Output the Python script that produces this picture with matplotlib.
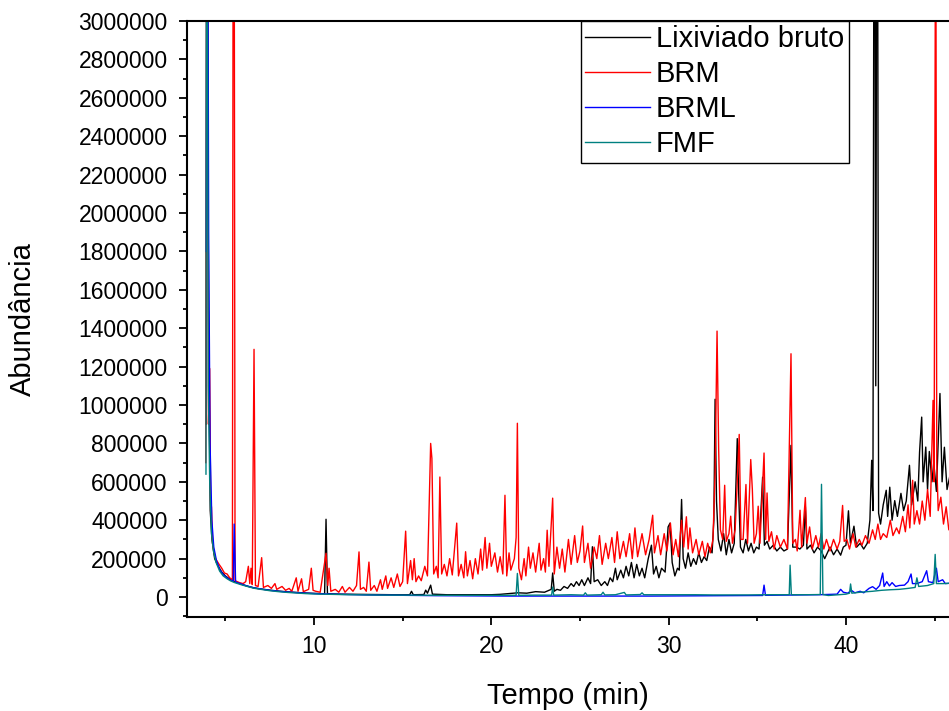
import matplotlib.pyplot as plt
from matplotlib.ticker import MultipleLocator, FuncFormatter
import numpy as np

# cromatogramas: (tempo em min, abundancia em milhares)
bruto = [(3.92, 900), (3.96, 5000), (4.05, 1500), (4.15, 450), (4.25, 300), (4.4, 200),
         (4.6, 160), (4.8, 130), (5.0, 110), (5.3, 90), (5.5, 80), (5.8, 70), (6.2, 58),
         (6.6, 48), (7.0, 42), (7.5, 36), (8.0, 31), (8.5, 27), (9.0, 24), (9.5, 21),
         (10.0, 19), (10.6, 17), (10.68, 405), (10.76, 17), (11.5, 15), (12.5, 14),
         (13.5, 13), (14.5, 12), (15.4, 12), (15.5, 30), (15.6, 12), (16.2, 13), (16.3, 36),
         (16.4, 20), (16.58, 62), (16.68, 15), (17.5, 12), (18.5, 12), (19.5, 12), (20.0, 12),
         (20.5, 14), (21.0, 18), (21.5, 22), (22.0, 20), (22.5, 28), (23.0, 25), (23.38, 40),
         (23.46, 125), (23.55, 30), (23.7, 40), (23.9, 35), (24.1, 55), (24.3, 45), (24.5, 70),
         (24.65, 55), (24.8, 80), (24.95, 60), (25.1, 90), (25.25, 60), (25.45, 100),
         (25.6, 70), (25.7, 262), (25.8, 80), (26.0, 90), (26.2, 60), (26.4, 80), (26.55, 60),
         (26.7, 100), (26.85, 80), (27.0, 150), (27.1, 90), (27.3, 140), (27.45, 100),
         (27.6, 160), (27.75, 110), (27.9, 180), (28.05, 100), (28.2, 170), (28.35, 110),
         (28.5, 150), (28.65, 100), (28.85, 200), (29.03, 270), (29.15, 120), (29.3, 160),
         (29.45, 100), (29.6, 150), (29.8, 130), (29.97, 365), (30.08, 385), (30.2, 180),
         (30.35, 110), (30.5, 150), (30.6, 140), (30.73, 508), (30.82, 200), (30.95, 150),
         (31.1, 230), (31.25, 160), (31.4, 200), (31.55, 170), (31.7, 230), (31.85, 180),
         (32.0, 210), (32.15, 190), (32.3, 260), (32.45, 230), (32.55, 400), (32.62, 1030),
         (32.7, 500), (32.8, 300), (32.95, 240), (33.1, 330), (33.25, 220), (33.4, 300),
         (33.55, 230), (33.7, 280), (33.87, 825), (33.95, 542), (34.05, 260), (34.2, 230),
         (34.35, 300), (34.5, 240), (34.65, 280), (34.8, 230), (34.95, 260), (35.1, 250),
         (35.3, 624), (35.4, 270), (35.55, 290), (35.7, 250), (35.9, 270), (36.1, 240),
         (36.3, 260), (36.5, 240), (36.7, 250), (36.9, 790), (37.0, 260), (37.2, 260),
         (37.4, 250), (37.6, 270), (37.71, 470), (37.8, 250), (38.0, 270), (38.2, 230),
         (38.4, 260), (38.6, 240), (38.8, 200), (38.95, 230), (39.1, 260), (39.3, 220),
         (39.5, 250), (39.7, 218), (39.85, 260), (40.0, 270), (40.14, 449), (40.25, 280),
         (40.45, 369), (40.6, 260), (40.8, 280), (41.0, 250), (41.2, 280), (41.35, 400),
         (41.45, 712), (41.52, 450), (41.6, 5000), (41.68, 1100), (41.76, 5000), (41.84, 437),
         (41.95, 380), (42.1, 480), (42.27, 556), (42.35, 420), (42.47, 572), (42.6, 400),
         (42.75, 502), (42.9, 420), (43.1, 540), (43.25, 450), (43.4, 500), (43.58, 686),
         (43.7, 480), (43.9, 600), (44.05, 500), (44.15, 755), (44.27, 937), (44.35, 600),
         (44.5, 781), (44.6, 560), (44.7, 758), (44.85, 600), (44.95, 700), (45.1, 550),
         (45.3, 1060), (45.42, 600), (45.55, 780), (45.7, 560), (45.9, 650)]

brm = [(3.9, 700), (3.97, 5000), (4.05, 900), (4.12, 1190), (4.17, 500), (4.22, 468),
       (4.28, 280), (4.35, 240), (4.45, 200), (4.65, 170), (4.8, 150), (4.95, 125), (5.1, 120),
       (5.25, 100), (5.4, 90), (5.47, 6000), (5.55, 85), (5.8, 75), (6.0, 70), (6.15, 80),
       (6.3, 160), (6.38, 70), (6.45, 150), (6.52, 65), (6.62, 1290), (6.7, 60), (6.85, 55),
       (7.05, 205), (7.15, 50), (7.4, 60), (7.6, 45), (7.8, 70), (7.9, 40), (8.2, 55),
       (8.4, 35), (8.6, 45), (8.75, 30), (9.0, 100), (9.1, 30), (9.3, 95), (9.4, 28),
       (9.7, 40), (9.85, 150), (9.95, 35), (10.1, 30), (10.35, 25), (10.68, 228), (10.78, 60),
       (10.85, 150), (10.95, 30), (11.2, 40), (11.4, 25), (11.6, 55), (11.75, 25), (12.0, 50),
       (12.2, 30), (12.4, 60), (12.54, 235), (12.62, 40), (12.8, 50), (12.95, 30), (13.1, 182),
       (13.2, 35), (13.4, 60), (13.55, 30), (13.75, 90), (13.85, 40), (14.05, 110), (14.15, 45),
       (14.35, 100), (14.5, 50), (14.7, 120), (14.85, 55), (15.0, 80), (15.17, 343),
       (15.27, 70), (15.45, 190), (15.55, 90), (15.65, 200), (15.75, 80), (15.9, 110),
       (16.05, 85), (16.25, 160), (16.4, 110), (16.58, 800), (16.65, 722), (16.75, 120),
       (16.9, 160), (17.0, 100), (17.1, 625), (17.2, 120), (17.35, 170), (17.5, 110),
       (17.65, 200), (17.8, 115), (18.05, 385), (18.15, 110), (18.3, 170), (18.45, 100),
       (18.55, 236), (18.65, 110), (18.8, 190), (18.95, 95), (19.1, 200), (19.25, 120),
       (19.4, 250), (19.5, 140), (19.65, 310), (19.75, 150), (19.9, 280), (20.0, 160),
       (20.2, 230), (20.35, 130), (20.5, 210), (20.65, 120), (20.77, 530), (20.87, 110),
       (21.0, 230), (21.1, 140), (21.3, 200), (21.4, 310), (21.47, 905), (21.55, 150),
       (21.7, 90), (21.85, 200), (21.95, 110), (22.1, 260), (22.2, 150), (22.35, 230),
       (22.5, 130), (22.7, 280), (22.8, 140), (22.95, 200), (23.05, 130), (23.15, 348),
       (23.25, 160), (23.46, 515), (23.55, 120), (23.7, 260), (23.85, 150), (24.0, 250),
       (24.15, 130), (24.35, 300), (24.5, 170), (24.7, 320), (24.85, 180), (25.0, 240),
       (25.15, 370), (25.25, 180), (25.45, 280), (25.6, 150), (25.8, 260), (25.95, 200),
       (26.1, 320), (26.25, 170), (26.45, 280), (26.6, 200), (26.8, 310), (26.95, 180),
       (27.1, 340), (27.25, 200), (27.45, 290), (27.6, 210), (27.8, 330), (27.95, 200),
       (28.1, 360), (28.25, 210), (28.5, 330), (28.7, 220), (28.9, 300), (29.1, 426),
       (29.2, 230), (29.4, 320), (29.55, 220), (29.75, 330), (29.9, 240), (30.1, 385),
       (30.25, 220), (30.4, 300), (30.55, 210), (30.73, 400), (30.85, 260), (31.0, 418),
       (31.1, 250), (31.2, 360), (31.35, 230), (31.55, 300), (31.7, 220), (31.9, 290),
       (32.05, 210), (32.2, 280), (32.35, 230), (32.5, 300), (32.62, 650), (32.73, 1385),
       (32.82, 776), (32.92, 350), (33.05, 300), (33.16, 582), (33.25, 290), (33.4, 330),
       (33.5, 421), (33.6, 280), (33.75, 350), (33.87, 600), (33.98, 847), (34.08, 300),
       (34.2, 300), (34.36, 586), (34.45, 280), (34.63, 716), (34.72, 561), (34.82, 280),
       (34.95, 330), (35.05, 473), (35.15, 280), (35.38, 750), (35.47, 300), (35.55, 542),
       (35.65, 290), (35.8, 340), (35.95, 250), (36.1, 320), (36.3, 260), (36.5, 300),
       (36.7, 250), (36.9, 1267), (37.0, 280), (37.15, 300), (37.25, 240), (37.41, 452),
       (37.5, 260), (37.71, 518), (37.8, 280), (37.95, 365), (38.1, 250), (38.3, 320),
       (38.45, 260), (38.6, 330), (38.75, 250), (38.9, 300), (39.1, 240), (39.3, 300),
       (39.5, 250), (39.65, 290), (39.81, 477), (39.9, 290), (40.05, 300), (40.2, 250),
       (40.4, 330), (40.55, 260), (40.75, 300), (40.9, 270), (41.1, 320), (41.3, 280),
       (41.5, 350), (41.65, 300), (41.8, 380), (41.95, 300), (42.1, 330), (42.3, 310),
       (42.5, 400), (42.65, 320), (42.85, 360), (43.0, 330), (43.2, 420), (43.35, 340),
       (43.5, 480), (43.6, 360), (43.76, 608), (43.85, 380), (44.0, 450), (44.15, 380),
       (44.3, 500), (44.45, 400), (44.6, 560), (44.75, 420), (44.91, 1024), (44.97, 600),
       (45.06, 4000), (45.12, 700), (45.2, 450), (45.35, 520), (45.5, 380), (45.65, 470),
       (45.8, 350), (45.9, 400)]

brml = [(3.93, 1800), (3.98, 5000), (4.06, 1900), (4.14, 800), (4.24, 400), (4.35, 260),
        (4.5, 190), (4.7, 140), (4.9, 115), (5.1, 100), (5.3, 88), (5.45, 82), (5.5, 380),
        (5.58, 78), (5.9, 68), (6.2, 58), (6.6, 48), (7.0, 42), (7.5, 35), (8.0, 30), (8.5, 26),
        (9.0, 23), (9.5, 20), (10.0, 18), (11.0, 15), (12.0, 13), (13.0, 11), (14.0, 10),
        (15.0, 9), (17.0, 7), (19.0, 6), (21.0, 5), (23.0, 5), (25.0, 5), (27.0, 5), (29.0, 5),
        (31.0, 6), (33.0, 7), (35.3, 8), (35.38, 62), (35.46, 9), (36.5, 10), (37.5, 11),
        (38.5, 12), (39.5, 15), (39.7, 40), (39.85, 25), (40.1, 20), (40.3, 35), (40.5, 22),
        (40.8, 30), (41.0, 22), (41.3, 45), (41.5, 54), (41.7, 40), (41.9, 60), (42.07, 125),
        (42.15, 55), (42.3, 80), (42.45, 58), (42.6, 75), (42.8, 55), (43.0, 60), (43.3, 62),
        (43.5, 80), (43.67, 120), (43.75, 70), (44.0, 70), (44.3, 80), (44.55, 137),
        (44.65, 80), (44.9, 75), (45.1, 150), (45.2, 80), (45.45, 90), (45.6, 70), (45.9, 72)]

fmf = [(3.91, 640), (3.95, 5000), (4.04, 1100), (4.12, 600), (4.22, 330), (4.33, 240),
       (4.48, 180), (4.68, 135), (4.88, 110), (5.1, 95), (5.3, 84), (5.5, 76), (5.9, 64),
       (6.2, 56), (6.6, 46), (7.0, 40), (7.5, 33), (8.0, 28), (8.5, 24), (9.0, 21), (9.5, 18),
       (10.0, 16), (11.0, 14), (12.0, 12), (13.0, 11), (14.0, 10), (15.0, 10), (17.0, 9),
       (19.0, 9), (21.4, 9), (21.47, 123), (21.55, 9), (22.5, 10), (23.4, 10), (23.46, 52),
       (23.52, 10), (24.5, 12), (25.2, 10), (25.3, 22), (25.4, 10), (26.2, 12), (26.3, 25),
       (26.4, 11), (27.0, 12), (27.5, 24), (27.6, 11), (28.4, 13), (28.5, 22), (28.6, 12),
       (29.5, 12), (30.5, 12), (31.5, 12), (32.5, 11), (33.5, 11), (34.5, 11), (35.5, 12),
       (36.5, 12), (36.8, 12), (36.85, 166), (36.92, 12), (37.8, 12), (38.55, 13),
       (38.62, 587), (38.7, 13), (39.0, 8), (39.6, 12), (40.0, 15), (40.2, 20), (40.26, 68),
       (40.33, 20), (40.8, 25), (41.5, 30), (42.0, 35), (42.5, 38), (43.0, 40), (43.5, 45),
       (43.9, 50), (44.0, 100), (44.1, 55), (44.6, 60), (44.95, 70), (45.03, 222),
       (45.1, 70), (45.5, 70), (45.9, 72)]

series = [bruto, brm, brml, fmf]
nomes = ['Lixiviado bruto', 'BRM', 'BRML', 'FMF']
cores = ['#000000', '#FF0000', '#0000FF', '#008080']

plt.rcParams['font.family'] = 'Liberation Sans'

fig = plt.figure(figsize=(9.49, 7.11), dpi=100)
ax = fig.add_axes([187 / 949, 1 - 617 / 711, 1 - 187 / 949, (617 - 21) / 711])

for s, nome, cor in zip(series, nomes, cores):
    t = np.array([p[0] for p in s])
    a = np.array([p[1] for p in s]) * 1000
    ax.plot(t, a, color=cor, lw=1.0, label=nome)

ax.set_xlim(2.84, 45.81)
ax.set_ylim(-104000, 3000000)
ax.xaxis.set_major_locator(MultipleLocator(10))
ax.xaxis.set_minor_locator(MultipleLocator(5))
ax.yaxis.set_major_locator(MultipleLocator(200000))
ax.yaxis.set_minor_locator(MultipleLocator(100000))
ax.yaxis.set_major_formatter(FuncFormatter(lambda v, p: '%d' % v))
ax.tick_params(which='major', direction='out', length=6, width=1.3, labelsize=16.5)
ax.tick_params(axis='y', which='major', pad=8)
ax.tick_params(axis='x', which='major', pad=7)
ax.tick_params(which='minor', direction='out', length=3, width=1.3)
for sp in ['left', 'bottom', 'top']:
    ax.spines[sp].set_linewidth(1.5)
ax.spines['right'].set_visible(False)

ax.set_xlabel('Tempo (min)', fontsize=21, labelpad=17)
ax.set_ylabel('Abundância', fontsize=21, labelpad=30)

leg = ax.legend(loc='upper left', bbox_to_anchor=(581 / 949, 1 - 21 / 711),
                bbox_transform=fig.transFigure, fontsize=21, frameon=True, fancybox=False,
                framealpha=1, edgecolor='black', borderpad=0.15, labelspacing=0.24,
                handlelength=2.2, handletextpad=0.22, borderaxespad=0)
leg.get_frame().set_linewidth(1.0)

fig.savefig('out.png', dpi=100)
